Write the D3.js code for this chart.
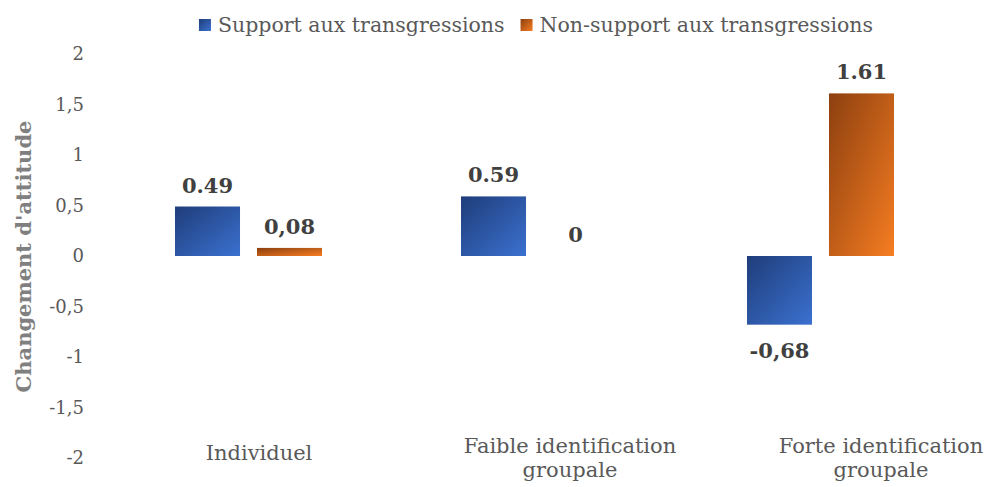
<!DOCTYPE html>
<html>
<head>
<meta charset="utf-8">
<script src="https://cdn.jsdelivr.net/npm/d3@7"></script>
<style>
  html, body { margin: 0; padding: 0; background: #ffffff; }
  svg { display: block; }
  text { font-family: "DejaVu Serif", Georgia, serif; }
</style>
</head>
<body>
<svg id="chart" width="989" height="487"></svg>
<script>
// Attitude change by condition and by support / non-support of transgressions
const categories = ["Individuel", "Faible identification\ngroupale", "Forte identification\ngroupale"];
const seriesNames = ["Support aux transgressions", "Non-support aux transgressions"];
const supportValues = [0.49, 0.59, -0.68];
const nonSupportValues = [0.08, 0, 1.61];
const supportLabels = ["0.49", "0.59", "-0,68"];
const nonSupportLabels = ["0,08", "0", "1.61"];
const yTicks = [2, 1.5, 1, 0.5, 0, -0.5, -1, -1.5, -2];
const yTitle = "Changement d'attitude";

const svg = d3.select("#chart");
const defs = svg.append("defs");

// Diagonal gradients: dark top-left to bright bottom-right
const gradients = [
  { id: "gradSupport", from: "#1f3d7a", to: "#3b71d0" },
  { id: "gradNonSupport", from: "#8c3f0f", to: "#f67d22" }
];
gradients.forEach(g => {
  const lg = defs.append("linearGradient").attr("id", g.id)
    .attr("x1", 0).attr("y1", 0).attr("x2", 1).attr("y2", 1);
  lg.append("stop").attr("offset", "0%").attr("stop-color", g.from);
  lg.append("stop").attr("offset", "100%").attr("stop-color", g.to);
});
const fills = ["url(#gradSupport)", "url(#gradNonSupport)"];

const x0 = d3.scaleBand().domain(categories).range([105.5, 963.5])
  .paddingInner(0.486).paddingOuter(0.243);
const x1 = d3.scaleBand().domain(seriesNames).range([0, x0.bandwidth()])
  .paddingInner(0.207).paddingOuter(0);
const y = d3.scaleLinear().domain([-2, 2]).range([458, 54]);
const xLabel = d3.scalePoint().domain(categories).range([259, 881]);

const rows = categories.map((c, i) => ({
  cat: c,
  bars: [
    { s: seriesNames[0], v: supportValues[i], label: supportLabels[i], k: 0 },
    { s: seriesNames[1], v: nonSupportValues[i], label: nonSupportLabels[i], k: 1 }
  ]
}));

// Y axis tick labels (no axis line, no ticks)
const yAxis = d3.axisLeft(y).tickValues(yTicks).tickSize(0).tickPadding(0)
  .tickFormat(d => String(d).replace(".", ","));
const yg = svg.append("g").attr("transform", "translate(84,0)").call(yAxis);
yg.select(".domain").remove();
yg.selectAll("text")
  .attr("font-family", "DejaVu Serif")
  .attr("font-size", 18).attr("fill", "#595959");

// Y axis title
svg.append("text")
  .attr("transform", "translate(31,256.5) rotate(-90)")
  .attr("text-anchor", "middle")
  .attr("font-size", 21).attr("font-weight", "bold")
  .attr("fill", "#808080")
  .text(yTitle);

// Bars
const groups = svg.append("g").selectAll("g").data(rows).join("g")
  .attr("transform", d => `translate(${x0(d.cat)},0)`);

groups.selectAll("rect").data(d => d.bars).join("rect")
  .attr("x", d => x1(d.s))
  .attr("width", x1.bandwidth())
  .attr("y", d => y(Math.max(0, d.v)))
  .attr("height", d => Math.abs(y(d.v) - y(0)))
  .attr("fill", d => fills[d.k]);

// Value labels
groups.selectAll("text.val").data(d => d.bars).join("text")
  .attr("class", "val")
  .attr("x", d => x1(d.s) + x1.bandwidth() / 2)
  .attr("y", d => d.v < 0 ? y(d.v) + 33 : y(d.v) - 14)
  .attr("text-anchor", "middle")
  .attr("font-size", 21).attr("font-weight", "bold")
  .attr("fill", "#404040")
  .text(d => d.label);

// Category labels
const catG = svg.append("g");
categories.forEach(c => {
  const lines = c.split("\n");
  const t = catG.append("text")
    .attr("text-anchor", "middle")
    .attr("font-size", 21).attr("fill", "#595959");
  const baseY = lines.length === 1 ? 460 : 453;
  lines.forEach((ln, j) => {
    t.append("tspan").attr("x", xLabel(c)).attr("y", baseY + j * 23.5).text(ln);
  });
});

// Legend
const legend = svg.append("g");
const items = legend.selectAll("g").data(seriesNames).join("g");
items.append("rect").attr("width", 12).attr("height", 12).attr("y", 19)
  .attr("fill", (d, i) => fills[i]);
items.append("text").attr("x", 19).attr("y", 32)
  .attr("font-size", 20.5).attr("fill", "#595959")
  .text(d => d);
let widths = [];
items.each(function () { widths.push(19 + this.querySelector("text").getComputedTextLength()); });
const gap = 16;
const total = d3.sum(widths) + gap * (widths.length - 1);
let cx = 536 - total / 2;
items.attr("transform", (d, i) => {
  const t = `translate(${cx},0)`;
  cx += widths[i] + gap;
  return t;
});
</script>
</body>
</html>
